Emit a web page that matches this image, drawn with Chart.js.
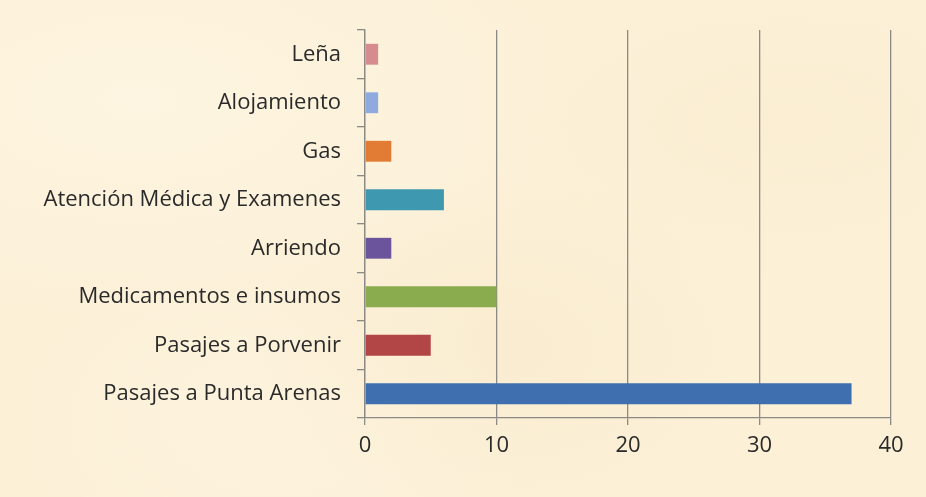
<!DOCTYPE html>
<html>
<head>
<meta charset="utf-8">
<script src="https://cdn.jsdelivr.net/npm/chart.js@4"></script>
<style>
  html, body { margin: 0; padding: 0; }
  body {
    width: 926px; height: 497px; overflow: hidden;
    background-color: #fcf0d7;
    background-image:
      radial-gradient(ellipse at 15% 20%, rgba(255,250,235,0.5), rgba(255,250,235,0) 40%),
      radial-gradient(ellipse at 55% 70%, rgba(245,230,198,0.4), rgba(245,230,198,0) 35%),
      radial-gradient(ellipse at 85% 25%, rgba(248,234,204,0.4), rgba(248,234,204,0) 30%),
      radial-gradient(ellipse at 30% 85%, rgba(255,248,230,0.4), rgba(255,248,230,0) 30%);
  }
  #wrap { position: absolute; left: 0; top: 0; width: 926px; height: 497px; }
</style>
</head>
<body>
<div id="wrap"><canvas id="gastosChart"></canvas></div>
<script>
var categories = ['Leña', 'Alojamiento', 'Gas', 'Atención Médica y Examenes', 'Arriendo',
                  'Medicamentos e insumos', 'Pasajes a Porvenir', 'Pasajes a Punta Arenas'];
var values = [1, 1, 2, 6, 2, 10, 5, 37];
var barColors = ['#d68b8f', '#8eaadf', '#e27c35', '#3e98b0', '#6c549c', '#8bab4f', '#b24545', '#3f6faf'];
var xTicks = [0, 10, 20, 30, 40];

var gridGray = '#8c8a86';
var textColor = '#2a2a2a';
var fontSpec = { family: '"Open Sans", sans-serif', size: 22 };

document.addEventListener('DOMContentLoaded', function () {
    var ctx = document.getElementById('gastosChart').getContext('2d');
    var chart = new Chart(ctx, {
        type: 'bar',
        data: {
            labels: categories,
            datasets: [{
                data: values,
                backgroundColor: barColors,
                borderWidth: 0,
                barPercentage: 0.43,
                categoryPercentage: 1
            }]
        },
        options: {
            indexAxis: 'y',
            responsive: true,
            maintainAspectRatio: false,
            animation: false,
            layout: { padding: { top: 30, right: 35, left: 0, bottom: 0 } },
            plugins: {
                legend: { display: false },
                tooltip: { enabled: false }
            },
            scales: {
                x: {
                    min: xTicks[0],
                    max: xTicks[xTicks.length - 1],
                    afterBuildTicks: function (scale) {
                        scale.ticks = xTicks.map(function (v) { return { value: v }; });
                    },
                    afterFit: function (scale) { scale.height = 79; },
                    grid: { color: gridGray, lineWidth: 1.3, tickLength: 7, drawTicks: true },
                    border: { color: gridGray, width: 1.3 },
                    ticks: { color: textColor, font: fontSpec, padding: 8 }
                },
                y: {
                    afterFit: function (scale) { scale.width = 365; },
                    grid: { display: true, drawOnChartArea: false, offset: true, color: gridGray, lineWidth: 1.3, tickLength: 8 },
                    border: { color: gridGray, width: 1.3 },
                    ticks: { color: textColor, font: fontSpec, padding: 16, autoSkip: false }
                }
            }
        }
    });
});
</script>
</body>
</html>
